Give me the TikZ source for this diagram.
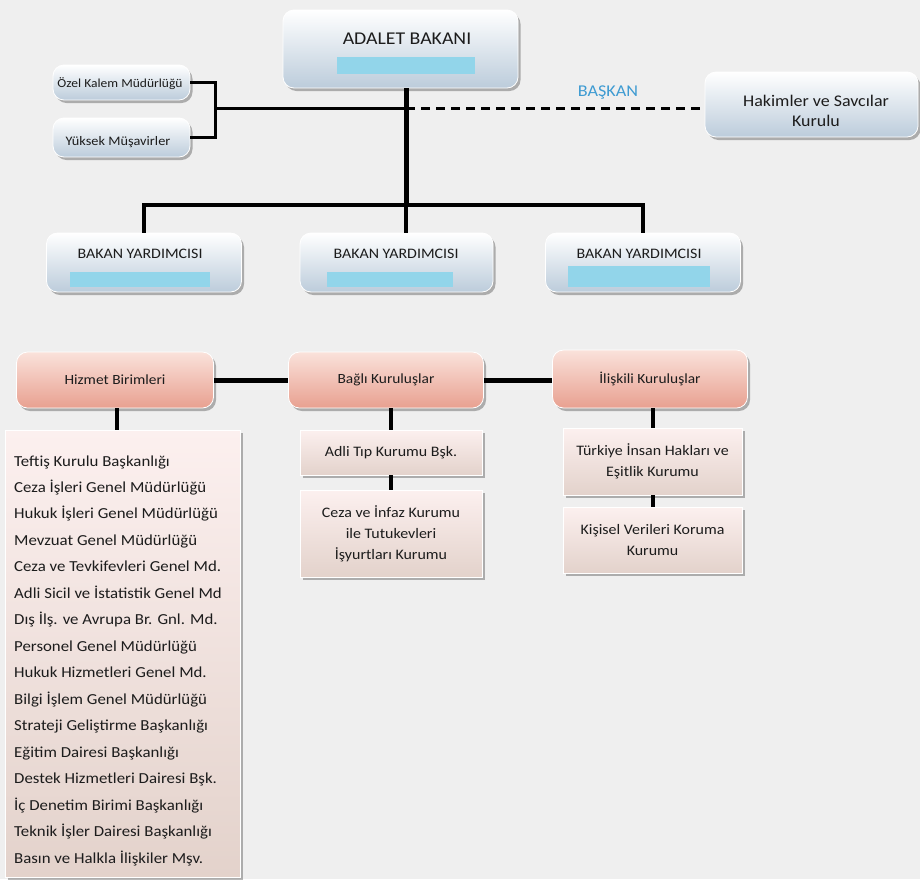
\documentclass[tikz,border=0pt]{standalone}
\usepackage{fontspec}
\setmainfont{Carlito}[FakeStretch=1.1]
\usetikzlibrary{shadows}
\definecolor{bgc}{HTML}{EFEFEF}
\definecolor{blueB}{HTML}{BCCCDB}
\definecolor{pinkT}{HTML}{FAE2DB}
\definecolor{pinkB}{HTML}{E8A090}
\definecolor{listT}{HTML}{FCF0EF}
\definecolor{listB}{HTML}{E3D2CB}
\definecolor{cyanbar}{HTML}{92D5EA}
\definecolor{baskanc}{HTML}{3E9BD2}
\definecolor{txt}{HTML}{1C1C1C}
\tikzset{
  boxshadow/.style={drop shadow={shadow xshift=2.5pt,shadow yshift=-3pt,fill=black,opacity=0.28}},
  bluebox/.style={rectangle,rounded corners=11pt,draw=white,line width=0.8pt,top color=white,bottom color=blueB,boxshadow,inner sep=0pt},
  pinkbox/.style={rectangle,rounded corners=11pt,draw=white,line width=0.8pt,top color=pinkT,bottom color=pinkB,boxshadow,inner sep=0pt,text=txt,font=\fontsize{14}{17}\selectfont},
  listbox/.style={rectangle,draw=white,line width=0.8pt,top color=listT,bottom color=listB,boxshadow,inner sep=0pt,text=txt,align=center,font=\fontsize{14.5}{21}\selectfont},
  lbl/.style={text=txt,inner sep=0pt},
  bar/.style={fill=cyanbar},
  link/.style={draw=black,line width=3pt},
  buslink/.style={draw=black,line width=4pt},
  thicklink/.style={draw=black,line width=5pt},
}
\begin{document}
\begin{tikzpicture}[x=1pt,y=-1pt]
\fill[bgc] (0,0) rectangle (920,879);
\useasboundingbox (0,0) rectangle (920,879);

% top level
\node[bluebox,minimum width=235pt,minimum height=78pt] (bakan) at (400.5,49) {};
\node[lbl,font=\fontsize{18}{21}\selectfont] (bakant) at (407,38.5) {ADALET BAKANI};
\fill[bar] (337,57) rectangle (475,74);

\node[bluebox,minimum width=137pt,minimum height=35pt] (ozel) at (121.5,82.5) {};
\node[lbl,font=\fontsize{12.3}{15}\selectfont] (ozelt) at (120,84) {Özel Kalem Müdürlüğü};
\node[bluebox,minimum width=137pt,minimum height=39pt] (yuksek) at (121.5,137.5) {};
\node[lbl,font=\fontsize{13}{15}\selectfont] (yuksekt) at (118,142) {Yüksek Müşavirler};

\node[bluebox,minimum width=213pt,minimum height=65pt] (hsk) at (811.5,104.5) {};
\node[lbl,align=center,font=\fontsize{16.3}{19.5}\selectfont] (hskt) at (816,111) {Hakimler ve Savcılar\\Kurulu};
\node[inner sep=0pt,text=baskanc,font=\fontsize{16.5}{18}\selectfont] (baskan) at (608,93) {BAŞKAN};

\coordinate (j1) at (406,108);
\coordinate (j2) at (406,205);
\coordinate (br) at (215,108);

% deputies
\node[bluebox,minimum width=195pt,minimum height=59pt] (by1) at (144,262.5) {};
\node[lbl,font=\fontsize{14.5}{17}\selectfont] (by1t) at (140,254) {BAKAN YARDIMCISI};
\fill[bar] (70,272) rectangle (210,287);
\node[bluebox,minimum width=193pt,minimum height=59pt] (by2) at (396.5,262.5) {};
\node[lbl,font=\fontsize{14.5}{17}\selectfont] (by2t) at (396,254) {BAKAN YARDIMCISI};
\fill[bar] (327,272) rectangle (453,287);
\node[bluebox,minimum width=195pt,minimum height=59pt] (by3) at (643,262.5) {};
\node[lbl,font=\fontsize{14.5}{17}\selectfont] (by3t) at (639,254) {BAKAN YARDIMCISI};
\fill[bar] (568,266) rectangle (710,287);

% pink row
\node[pinkbox,minimum width=197pt,minimum height=56pt] (hiz) at (115,380) {Hizmet Birimleri};
\node[pinkbox,minimum width=195pt,minimum height=56pt] (bagli) at (386,380) {Bağlı Kuruluşlar};
\node[pinkbox,minimum width=195pt,minimum height=58pt] (ilis) at (650,379) {İlişkili Kuruluşlar};

% lists
\node[listbox,anchor=north west,minimum width=235pt,minimum height=447pt] (list) at (5,430) {};
\foreach \t [count=\i] in {Teftiş Kurulu Başkanlığı,Ceza İşleri Genel Müdürlüğü,Hukuk İşleri Genel Müdürlüğü,Mevzuat Genel Müdürlüğü,Ceza ve Tevkifevleri Genel Md.,Adli Sicil ve İstatistik Genel Md,Dış İlş. ve Avrupa Br. Gnl. Md.,Personel Genel Müdürlüğü,Hukuk Hizmetleri Genel Md.,Bilgi İşlem Genel Müdürlüğü,Strateji Geliştirme Başkanlığı,Eğitim Dairesi Başkanlığı,Destek Hizmetleri Dairesi Bşk.,İç Denetim Birimi Başkanlığı,Teknik İşler Dairesi Başkanlığı,Basın ve Halkla İlişkiler Mşv.}
  \node[lbl,anchor=base west,font=\fontsize{15.3}{18}\selectfont] (li\i) at (14,{466+26.47*(\i-1)}) {\t};

\node[listbox,minimum width=182pt,minimum height=45pt] (adli) at (391,452.5) {Adli Tıp Kurumu Bşk.};
\node[listbox,minimum width=182pt,minimum height=87pt] (ceza) at (391,533.5) {Ceza ve İnfaz Kurumu\\ile Tutukevleri\\İşyurtları Kurumu};
\node[listbox,minimum width=179pt,minimum height=67pt] (tihek) at (652.5,461.5) {Türkiye İnsan Hakları ve\\Eşitlik Kurumu};
\node[listbox,minimum width=179pt,minimum height=66pt] (kvkk) at (652.5,540) {Kişisel Verileri Koruma\\Kurumu};

% connectors
\draw[link] (ozel.east) -- ++(25,0) |- (yuksek.east);
\draw[link] (br) -- (j1);
\draw[link,dashed,dash pattern=on 9pt off 6pt] (j1) -- (j1 -| hsk.west);
\draw[thicklink] (j1 |- bakan.south) -- (j2);
\draw[buslink] (by1.north) |- (j2) -| (by3.north);
\draw[buslink] (j2) -- (j2 |- by2.north);
\draw[thicklink] (hiz.east) -- (bagli.west);
\draw[thicklink] (bagli.east) -- (bagli.east -| ilis.west);
\draw[buslink] (hiz.south -| 117,0) -- (list.north -| 117,0);
\draw[buslink] (bagli.south -| adli.north) -- (adli.north);
\draw[buslink] (adli.south) -- (ceza.north);
\draw[buslink] (ilis.south -| tihek.north) -- (tihek.north);
\draw[buslink] (tihek.south) -- (kvkk.north);
\end{tikzpicture}
\end{document}
